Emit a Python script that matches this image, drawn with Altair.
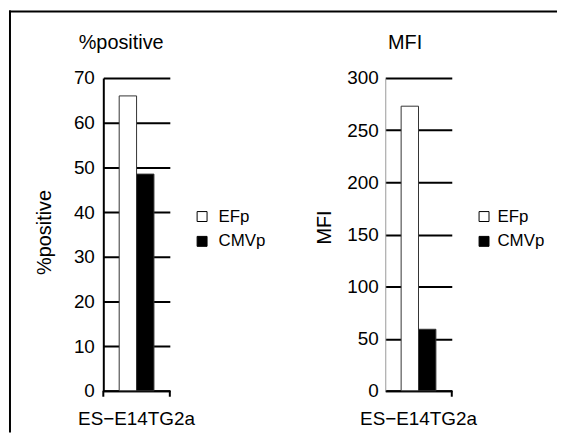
import altair as alt
import pandas as pd

# ---- data ----
cell_lines = ["ES−E14TG2a"]
promoters = ["EFp", "CMVp"]
pct_positive = [66, 48.5]
mfi_values = [273, 59]
pct_ticks = [0, 10, 20, 30, 40, 50, 60, 70]
mfi_ticks = [0, 50, 100, 150, 200, 250, 300]
fill_colors = ["white", "black"]

df = pd.DataFrame({
    "cell": cell_lines * len(promoters),
    "promoter": promoters,
    "pct": pct_positive,
    "mfi": mfi_values,
})
one = pd.DataFrame({"k": [0]})

FONT = "Liberation Sans"
W, H = 67, 315


def panel(field, ytitle, ymax, ticks, dom_color, dom_width, title_x, title_y,
          title_cx, label_offset, label_pad, end_ticks, border=False):
    bars = alt.Chart(df).mark_bar(stroke="#333333", strokeWidth=1).encode(
        x=alt.X("cell:N", title=None,
                scale=alt.Scale(paddingInner=0, paddingOuter=0.457),
                axis=alt.Axis(labelAngle=0, ticks=False, domainColor="black",
                              domainWidth=2, labelFontSize=19, labelPadding=19,
                              labelColor="black")),
        xOffset=alt.XOffset("promoter:N", sort=promoters,
                            scale=alt.Scale(paddingInner=0, paddingOuter=0)),
        y=alt.Y(f"{field}:Q", title=ytitle,
                scale=alt.Scale(domain=[0, ymax], nice=False),
                axis=alt.Axis(values=ticks, grid=True, gridColor="black",
                              gridWidth=2, gridOpacity=1, ticks=False,
                              domainColor=dom_color, domainWidth=dom_width,
                              labelFontSize=19, labelPadding=label_pad,
                              labelColor="black", titleFontSize=20,
                              titleFontWeight="normal", titleColor="black",
                              titleX=title_x, titleY=title_y, titleAngle=270,
                              titleAlign="center", titleBaseline="middle")),
        color=alt.Color("promoter:N", sort=promoters,
                        scale=alt.Scale(domain=promoters, range=fill_colors),
                        legend=alt.Legend(title=None, orient="none",
                                          legendX=91, legendY=131, padding=0,
                                          symbolType="square", symbolSize=100,
                                          symbolStrokeColor="black",
                                          symbolStrokeWidth=1,
                                          labelFontSize=17, labelColor="black",
                                          labelOffset=label_offset,
                                          rowPadding=7)),
    )
    title = alt.Chart(one).mark_text(fontSize=20, color="black", align="center",
                                     baseline="alphabetic").encode(
        x=alt.value(title_cx), y=alt.value(-29), text=alt.value(ytitle))
    layers = [bars, title]
    for xv in end_ticks:
        layers.append(alt.Chart(one).mark_rule(color="black", strokeWidth=2).encode(
            x=alt.value(xv), y=alt.value(H), y2=alt.value(H + 6)))
    if border:
        layers.append(alt.Chart(one).mark_rule(color="black", strokeWidth=2, clip=False).encode(
            x=alt.value(-94), y=alt.value(-68), y2=alt.value(357)))
        layers.append(alt.Chart(one).mark_rule(color="black", strokeWidth=2, clip=False).encode(
            x=alt.value(-95), x2=alt.value(457), y=alt.value(-67)))
    return alt.layer(*layers).properties(width=W, height=H)


left = panel("pct", "%positive", 70, pct_ticks, "black", 2, -59, 155, 18, 8, 9,
             [0, W], border=True)
right = panel("mfi", "MFI", 300, mfi_ticks, "#999999", 1, -61, 150, 20, 5, 7,
              [W])

chart = alt.hconcat(left, right, spacing=217, bounds="flush").resolve_scale(
    color="independent", y="independent", x="independent"
).resolve_legend(color="independent").properties(
    padding={"left": 0, "top": 0, "right": 0, "bottom": 0}
).configure(font=FONT).configure_view(stroke=None)

chart.save("out.html", embed_options={"renderer": "svg", "actions": False})
